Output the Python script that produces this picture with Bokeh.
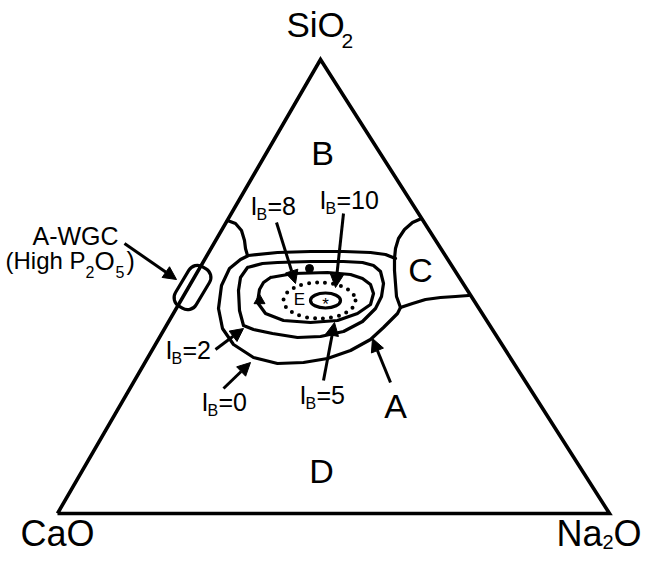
from bokeh.plotting import figure
from bokeh.models import Range1d, Arrow, NormalHead, ColumnDataSource
from bokeh.core.properties import value
from bokeh.embed import file_html
from bokeh.resources import INLINE

FONT = value("Liberation Sans")

# ---- diagram data (picture pixel coordinates) ----
# ternary frame: CaO (bottom-left), SiO2 (apex), Na2O (bottom-right)
tri_x = [57, 320, 609, 57]
tri_y = [513, 59, 513, 513]

# boundary of field B (small pocket at upper-left of contours)
b_pocket_x = [227, 235, 241, 244, 245, 247]
b_pocket_y = [220, 223, 230, 240, 248, 255]

# boundary of field C
c_bound_x = [421, 412, 404, 398, 395, 394, 394, 395, 396, 400]
c_bound_y = [218, 222, 229, 238, 248, 258, 270, 283, 296, 307]

# C / D boundary line to Na2O-SiO2 edge
cd_line_x = [400, 412, 425, 440, 455, 468]
cd_line_y = [307, 303, 299, 297, 296, 295]

# I_B = 0 contour (field A limit)
ib0_x = [400, 397, 390, 383, 370, 350, 327, 303, 277, 253, 233, 222, 218, 221, 229, 240, 248,
         277, 310, 343, 370, 385, 395]
ib0_y = [307, 313, 320, 327, 339, 350, 358, 362, 363, 357, 344, 328, 308, 285, 268, 259, 255,
         252, 251, 251, 252, 254, 258]

# I_B = 2 contour
ib2_x = [247, 262, 277, 310, 343, 362, 373, 380, 383, 381, 375, 362, 343, 320, 297, 272, 253,
         243, 239, 238, 240, 247]
ib2_y = [267, 263, 262, 261, 261, 262, 265, 271, 283, 296, 308, 321, 331, 336, 337, 333, 329,
         325, 310, 290, 277, 267]

# I_B = 5 contour
ib5_x = [270, 293, 327, 350, 362, 370, 373, 370, 357, 337, 310, 283, 265, 257, 259, 263, 270]
ib5_y = [277, 273, 272, 274, 278, 284, 293, 304, 313, 320, 322, 320, 313, 302, 289, 282, 277]

# I_B = 8 (dotted) and I_B = 10 (solid) closed contours: centre, width, height
ib8_ell = dict(x=[319], y=[300], w=[72], h=[36])
ib10_ell = dict(x=[325], y=[300], w=[30], h=[15])

# A-WGC (high P2O5) field: centre, long axis, short axis, tilt (deg)
awgc_box = dict(x=[192], y=[287], w=[46], h=[24], ang=[59])

# markers
dot_x, dot_y = [309], [268]
tri_mark_x, tri_mark_y = [259], [300]

# arrows (start -> tip)
arrow_x0 = [124, 276, 343, 215, 223, 323, 390]
arrow_y0 = [243, 222, 213, 349, 388, 380, 382]
arrow_x1 = [176, 295, 335, 243, 250, 334, 372]
arrow_y1 = [279, 283, 287, 328, 362, 322, 338]

# field labels
field_labels = ["B", "C", "A", "D"]
field_x = [322, 420, 395, 321]
field_y = [152, 269, 405, 470]

# I_B labels (origin x of "I", vertical centre of capitals)
ib_values = ["=0", "=2", "=5", "=8", "=10"]
ib_x = [201, 165, 299, 250, 319]
ib_y = [401, 349, 394, 205, 199]

p = figure(width=646, height=554, x_range=Range1d(0, 646), y_range=Range1d(554, 0),
           output_backend="svg", toolbar_location=None, min_border=0,
           x_axis_location=None, y_axis_location=None)
p.grid.visible = False
p.outline_line_color = None
p.background_fill_color = "white"
p.border_fill_color = "white"

LW = 3.2
p.line(tri_x, tri_y, line_width=3.6, line_color="black", line_join="miter")
for xs, ys in [(b_pocket_x, b_pocket_y), (c_bound_x, c_bound_y), (cd_line_x, cd_line_y),
               (ib0_x, ib0_y), (ib2_x, ib2_y), (ib5_x, ib5_y)]:
    p.line(xs, ys, line_width=LW, line_color="black", line_join="round", line_cap="round")

p.ellipse(x=ib8_ell["x"], y=ib8_ell["y"], width=ib8_ell["w"], height=ib8_ell["h"],
          fill_color=None, line_color="black", line_width=4, line_dash="0 8", line_cap="round")
p.ellipse(x=ib10_ell["x"], y=ib10_ell["y"], width=ib10_ell["w"], height=ib10_ell["h"],
          fill_color=None, line_color="black", line_width=LW)

p.rect(x=awgc_box["x"], y=awgc_box["y"], width=awgc_box["w"], height=awgc_box["h"],
       angle=awgc_box["ang"], angle_units="deg", border_radius=10,
       fill_color=None, line_color="black", line_width=LW)

p.scatter(dot_x, dot_y, marker="circle", size=8, color="black")
p.scatter(tri_mark_x, tri_mark_y, marker="triangle", size=11, color="black")

src = ColumnDataSource(dict(x0=arrow_x0, y0=arrow_y0, x1=arrow_x1, y1=arrow_y1))
p.add_layout(Arrow(end=NormalHead(size=13, fill_color="black", line_color="black", line_width=1),
                   x_start="x0", y_start="y0", x_end="x1", y_end="y1", source=src,
                   line_width=3, line_color="black"))

def txt(x, y, s, size, align="left"):
    p.text(x=x, y=y, text=s, text_font=FONT, text_font_size=f"{size}px",
           text_align=align, text_baseline="middle", text_color="black")

# field letters
txt(field_x, field_y, field_labels, 34, "center")
# centre marks
txt([299], [299], ["E"], 17, "center")
txt([325], [304], ["*"], 17, "center")

# I_B labels
txt(ib_x, ib_y, ["I"] * len(ib_x), 25)
txt([v + 6 for v in ib_x], [v + 9 for v in ib_y], ["B"] * len(ib_x), 16)
txt([v + 17 for v in ib_x], ib_y, ib_values, 25)

# A-WGC label
txt([75], [235], ["A-WGC"], 25, "center")
txt([5], [260], ["(High P"], 24)
txt([85], [271], ["2"], 16)
txt([94], [260], ["O"], 26)
txt([115], [271], ["5"], 16)
txt([126], [260], [")"], 25)

# apex labels
txt([286], [24], ["SiO"], 35)
txt([341], [40], ["2"], 21)
txt([20], [533], ["CaO"], 36)
txt([556], [533], ["Na"], 36)
txt([602], [541], ["2"], 20)
txt([613], [533], ["O"], 36)

open("out.html", "w").write(file_html(p, INLINE))
